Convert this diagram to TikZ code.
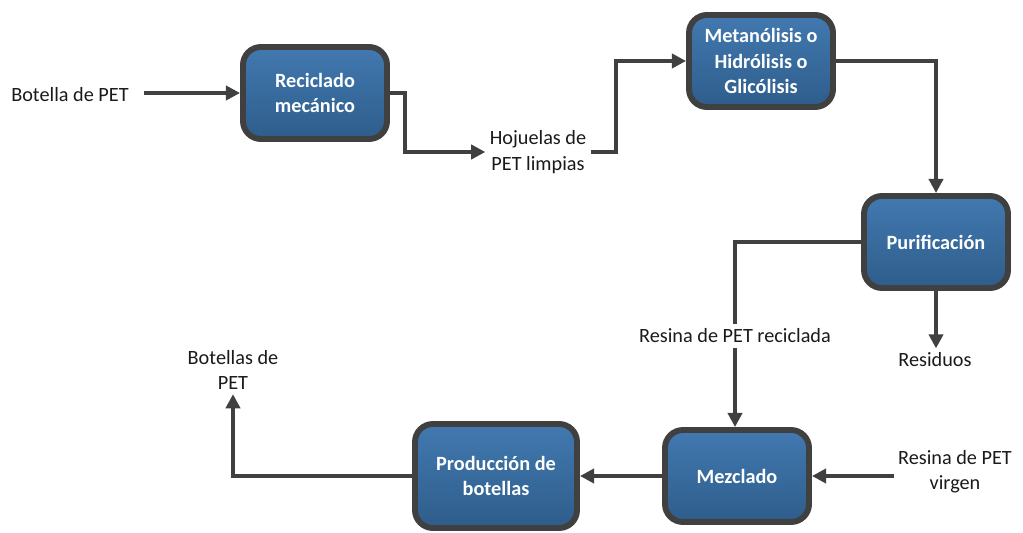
\documentclass[tikz,border=0pt]{standalone}
\usepackage{fontspec}
\setmainfont{Carlito}
\usetikzlibrary{arrows.meta,shadows}

\definecolor{boxtop}{HTML}{4279B0}
\definecolor{boxbottom}{HTML}{2E5D8B}
\definecolor{edge}{HTML}{404040}
\definecolor{ink}{HTML}{1A1A1A}

\tikzset{
    proceso/.style={draw=edge,line width=4.2pt,rounded corners=0.45cm,top color=boxtop,bottom color=boxbottom,
        text=white,font=\fontsize{14.4}{18}\selectfont\bfseries,align=center,
        minimum width=3.6cm,minimum height=2.3cm,
        drop shadow={shadow xshift=1.5pt,shadow yshift=-1.5pt,opacity=0.25}},
    etiqueta/.style={text=ink,font=\fontsize{14.4}{18}\selectfont,align=center,inner sep=3pt},
    linea/.style={draw=edge,line width=2.6pt},
    flujo/.style={linea,-{Triangle[length=10pt,width=10pt]}},
}

\begin{document}
\begin{tikzpicture}[x=0.025cm,y=-0.025cm]
                \useasboundingbox (0,0) rectangle (1023,532);
                \node [proceso] (reciclado) at (315,93) {Reciclado\\mecánico};
                \node [proceso] (metanolisis) at (761,61) {Metanólisis o\\Hidrólisis o\\Glicólisis};
                \node [proceso] (purificacion) at (936,242) {Purificación};
                \node [proceso] (mezclado) at (737,476) {Mezclado};
                \node [proceso,minimum width=4.05cm,minimum height=2.6cm] (produccion) at (496,476) {Producción de\\botellas};
                \node [etiqueta] (botella) at (70,95) {Botella de PET};
                \node [etiqueta] (hojuelas) at (538,152) {Hojuelas de\\PET limpias};
                \node [etiqueta] (resreciclada) at (735,336) {Resina de PET reciclada};
                \node [etiqueta] (residuos) at (935,360) {Residuos};
                \node [etiqueta] (resvirgen) at (955,472) {Resina de PET\\virgen};
                \node [etiqueta] (botellas) at (233,370) {Botellas de\\PET};
                \draw [flujo] ([xshift=8pt]botella.east |- reciclado.west) -- (reciclado.west);
                \draw [flujo] (reciclado.east) -- ++(15,0) |- (hojuelas.west);
                \draw [flujo] (hojuelas.east) -- ++(25,0) |- (metanolisis.west);
                \draw [flujo] (metanolisis.east) -| (purificacion.north);
                \draw [linea] (purificacion.west) -| (resreciclada.north);
                \draw [flujo] (resreciclada.south) -- (resreciclada.south |- mezclado.north);
                \draw [flujo] (purificacion.south) -- (purificacion.south |- residuos.north);
                \draw [flujo] (mezclado.east -| resvirgen.west) -- (mezclado.east);
                \draw [flujo] (mezclado.west) -- (produccion.east);
                \draw [flujo] (produccion.west) -| (botellas.south);
\end{tikzpicture}
\end{document}
